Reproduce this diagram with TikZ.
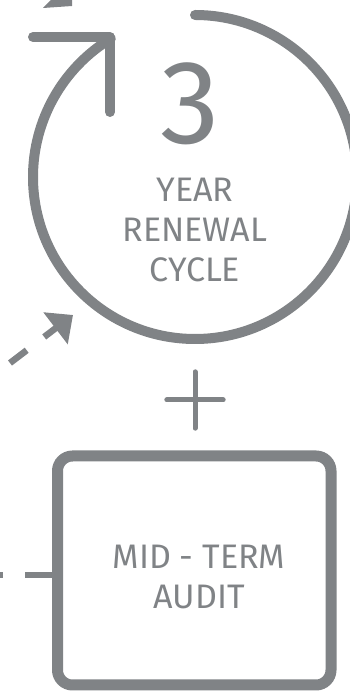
\documentclass[tikz,border=0pt]{standalone}
\usepackage{fontspec}
\setmainfont{Fira Sans}
\usetikzlibrary{arrows.meta}
\definecolor{ig}{RGB}{128,131,134}
\begin{document}
\begin{tikzpicture}[x=1pt,y=1pt,
  stroke/.style={draw=ig,line width=10pt,line cap=round,line join=round},
  thin stroke/.style={draw=ig,line width=5pt,line cap=round},
  dashline/.style={draw=ig,line width=6.5pt},
  lbl/.style={text=ig,font=\fontsize{34}{40}\selectfont,align=center,inner sep=0pt},
  big/.style={text=ig,font=\fontsize{119}{119}\selectfont,inner sep=0pt},
  auditbox/.style={draw=ig,line width=11pt,rounded corners=15pt,minimum width=273.5pt,minimum height=229pt,inner sep=0pt}]
\useasboundingbox (0,0) rectangle (350,691);
\clip (0,0) rectangle (350,691);
% renewal cycle
\coordinate (cc) at (195,514);
\draw[stroke] (cc) ++(90:162) arc[start angle=90,end angle=-238.7,radius=162];
\coordinate (chA) at (33,654);
\coordinate (chB) at (110,654);
\coordinate (chC) at (110,579);
\draw[stroke] (chA) -- (chB) -- (chC);
\node[big] (three) at (190,587) {3};
\node[lbl] (cyctext) at (195,461) {YEAR\\RENEWAL\\CYCLE};
% plus
\node[inner sep=0pt,minimum size=56pt] (plus) at (195,291) {};
\draw[thin stroke] (plus.north) -- (plus.south);
\draw[thin stroke] (plus.west) -- (plus.east);
% audit box
\node[auditbox] (audit) at (194.25,120.5) {};
\node[lbl] (audittext) at (199,114) {MID - TERM\\AUDIT};
% dashed connectors
\coordinate (leftend) at (0,116);
\draw[dashline,dash pattern=on 27.5pt off 22pt] (leftend -| audit.west) -- (leftend);
\coordinate (arrstart) at (10,328);
\coordinate (arrtip) at (73,376);
\draw[dashline,dash pattern=on 21pt off 22pt,-{Triangle[length=22pt,width=39pt]}] (arrstart) -- (arrtip);
% cut-off arrowhead at top
\fill[ig] (43,683) -- (51,691) -- (72,691) -- (72,685) -- cycle;
\end{tikzpicture}
\end{document}
